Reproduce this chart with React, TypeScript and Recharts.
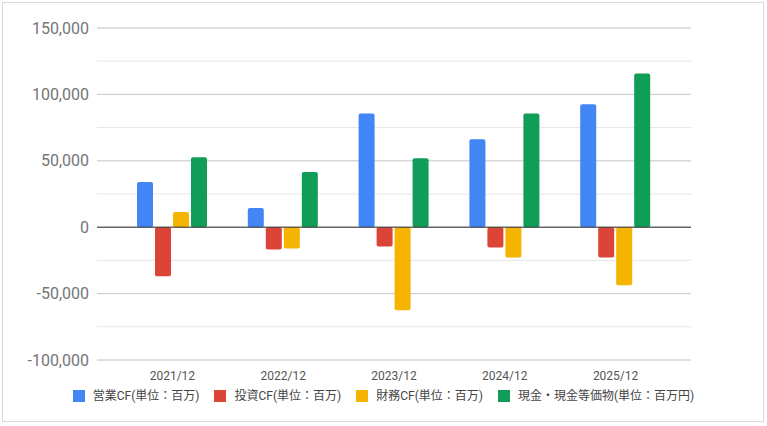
import { Bar, BarChart, CartesianGrid, ReferenceLine, XAxis, YAxis } from 'recharts'

const periods = ['2021/12', '2022/12', '2023/12', '2024/12', '2025/12']
const operatingCF = [34000, 14500, 85700, 66200, 92500]
const investingCF = [-37000, -16800, -14500, -15300, -22800]
const financingCF = [11500, -16000, -62500, -22800, -43800]
const cashBalance = [52700, 41500, 52000, 85700, 115700]

const majorTicks = [-100000, -50000, 0, 50000, 100000, 150000]
const minorTicks = [
  -100000, -87500, -75000, -62500, -50000, -37500, -25000, -12500, 0, 12500, 25000, 37500, 50000, 62500, 75000,
  87500, 100000, 112500, 125000, 137500, 150000,
]

const series = [
  { key: 'operating', name: '営業CF(単位：百万)', color: '#4285F4' },
  { key: 'investing', name: '投資CF(単位：百万)', color: '#DB4437' },
  { key: 'financing', name: '財務CF(単位：百万)', color: '#F4B400' },
  { key: 'cash', name: '現金・現金等価物(単位：百万円)', color: '#0F9D58' },
]

const data = periods.map((label, i) => ({
  label,
  operating: operatingCF[i],
  investing: investingCF[i],
  financing: financingCF[i],
  cash: cashBalance[i],
}))

const fontFamily = "Roboto, 'Noto Sans CJK JP', sans-serif"

export default function App() {
  return (
    <div style={{ position: 'fixed', left: 0, top: 0, width: 767, height: 426, background: '#fff', fontFamily }}>
      <div
        style={{
          position: 'absolute',
          left: 2,
          top: 2,
          width: 760,
          height: 418,
          border: '1px solid #d9d9d9',
        }}
      />
      <div style={{ position: 'absolute', left: 0, top: 0 }}>
        <BarChart
          width={767}
          height={426}
          data={data}
          margin={{ top: 28, right: 76, bottom: 36, left: 0 }}
          barSize={16}
          barGap={2}
        >
          <CartesianGrid vertical={false} stroke="#e6e6e6" horizontalValues={minorTicks} />
          <CartesianGrid vertical={false} stroke="#cccccc" />
          <XAxis
            dataKey="label"
            axisLine={false}
            tickLine={false}
            tickMargin={5}
            padding={{ left: 20, right: 20 }}
            tick={{ fill: '#555', fontSize: 12, fontFamily }}
          />
          <YAxis
            width={97}
            domain={[-100000, 150000]}
            ticks={majorTicks}
            axisLine={false}
            tickLine={false}
            tickFormatter={(v) => Number(v).toLocaleString('en-US')}
            tick={{ fill: '#757575', fontSize: 16, fontFamily }}
          />
          {series.map((s) => (
            <Bar key={s.key} dataKey={s.key} name={s.name} fill={s.color} radius={2} isAnimationActive={false} />
          ))}
          <ReferenceLine y={0} stroke="#333" strokeWidth={1} />
        </BarChart>
      </div>
      <div
        style={{
          position: 'absolute',
          left: 0,
          top: 389,
          width: 767,
          display: 'flex',
          justifyContent: 'center',
          alignItems: 'center',
          fontSize: 12,
          color: '#444',
        }}
      >
        {series.map((s, i) => (
          <div key={s.key} style={{ display: 'flex', alignItems: 'center', marginLeft: i === 0 ? 0 : 15 }}>
            <span style={{ width: 12, height: 12, background: s.color, marginRight: 8, display: 'inline-block' }} />
            <span style={{ lineHeight: '14px' }}>{s.name}</span>
          </div>
        ))}
      </div>
    </div>
  )
}
